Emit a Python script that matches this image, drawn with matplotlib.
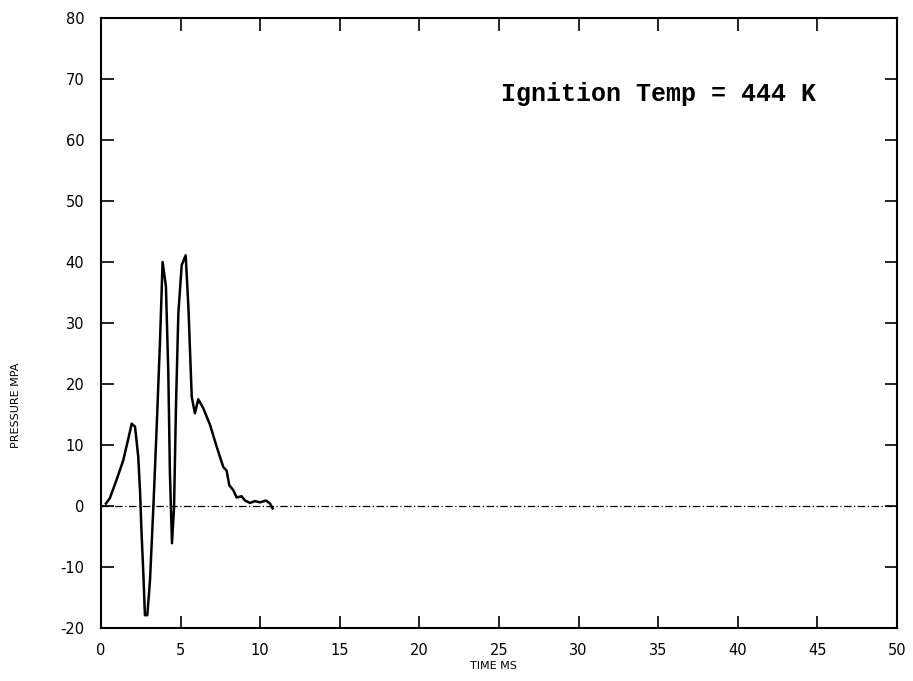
import matplotlib
matplotlib.use("Agg")
import matplotlib.pyplot as plt

plt.rcParams["axes.unicode_minus"] = False

time_ms = [0.31, 0.56, 0.98, 1.40, 1.82, 1.93, 2.14, 2.34, 2.45, 2.55, 2.66, 2.76, 2.91,
           3.08, 3.29, 3.50, 3.71, 3.87, 4.08, 4.23, 4.33, 4.46, 4.59, 4.71, 4.86, 5.07,
           5.32, 5.49, 5.70, 5.90, 6.11, 6.43, 6.85, 7.27, 7.68, 7.89, 8.06, 8.31, 8.52,
           8.83, 9.05, 9.36, 9.67, 9.99, 10.36, 10.62, 10.78]
pressure_mpa = [0.4, 1.3, 4.3, 7.5, 12.2, 13.5, 13.0, 8.1, 2.6, -4.5, -11.0, -17.9, -17.9,
                -12.1, -0.2, 13.0, 27.2, 40.0, 36.0, 21.7, 5.4, -6.1, -0.2, 16.3, 31.6, 39.5,
                41.1, 32.7, 17.9, 15.2, 17.5, 16.0, 13.3, 9.7, 6.4, 5.8, 3.4, 2.6, 1.4,
                1.6, 0.9, 0.5, 0.8, 0.6, 0.9, 0.4, -0.4]

x_ticks = [0, 5, 10, 15, 20, 25, 30, 35, 40, 45, 50]
y_ticks = [-20, -10, 0, 10, 20, 30, 40, 50, 60, 70, 80]
annotation = "Ignition Temp = 444 K"

fig = plt.figure(figsize=(9.13, 6.81), dpi=100)
ax = fig.add_axes([0.1106, 0.0778, 0.8719, 0.8958])

ax.axhline(0, color="black", lw=0.9, ls=(0, (6, 2, 1, 2)))
ax.plot(time_ms, pressure_mpa, color="black", lw=1.8)

ax.set_xlim(0, 50)
ax.set_ylim(-20, 80)
ax.set_xticks(x_ticks)
ax.set_yticks(y_ticks)
ax.tick_params(direction="in", length=9, width=1.2, top=True, right=True,
               labelsize=10.5, colors="black")
ax.tick_params(axis="x", pad=11)
ax.tick_params(axis="y", pad=12)
for s in ax.spines.values():
    s.set_linewidth(1.5)

ax.text(25.1, 67.6, annotation, fontsize=18, fontweight="bold",
        family="Liberation Mono", va="center", ha="left")

fig.text(0.5405, 0.022, "TIME MS", fontsize=8, ha="center", va="center")
fig.text(0.017, 0.405, "PRESSURE MPA", fontsize=8, rotation=90, ha="center", va="center")

fig.savefig("out.png", dpi=100)
